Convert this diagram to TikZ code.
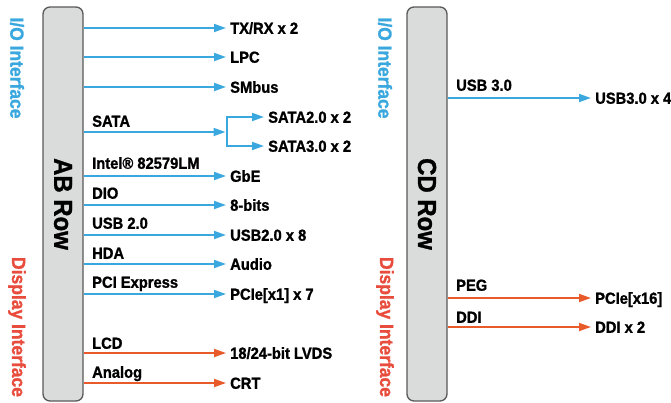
\documentclass[tikz,border=0pt]{standalone}
\usepackage{fontspec}
\setmainfont{Liberation Sans}[FakeStretch=0.92, BoldFont={Liberation Sans Bold},
  BoldFeatures={FakeStretch=0.92, FakeBold=1.2}]
\usetikzlibrary{arrows.meta}
\definecolor{ioblue}{HTML}{3AA8DE}
\definecolor{dispred}{HTML}{E84C3D}
\definecolor{disporange}{HTML}{E85A2A}
\definecolor{rowgray}{HTML}{DADBDB}
\tikzset{
  rowbox/.style={draw=black!65, line width=1.3pt, fill=rowgray, rounded corners=7pt,
    rotate=-90, minimum width=394pt, minimum height=40pt, inner sep=0pt,
    font=\fontsize{26}{26}\selectfont\bfseries},
  side/.style={rotate=-90, inner sep=0pt, font=\fontsize{19}{19}\selectfont\bfseries},
  lbl/.style={anchor=west, inner ysep=0pt, inner xsep=0pt, text height=11.5pt,
    text depth=0pt, font=\fontsize{16}{16}\selectfont\bfseries},
  dst/.style={lbl, inner xsep=4pt},
  bus/.style={line width=1.8pt, -{Triangle[length=12pt,width=8pt]}},
}
\begin{document}
\begin{tikzpicture}[x=1pt, y=-1pt]
  \useasboundingbox (0,0) rectangle (671,402);
  % AB row
  \node[rowbox] (ab) at (63,204) {AB Row};
  \node[side, text=ioblue] (abio) at (17,68) {I/O Interface};
  \node[side, text=dispred] (abdisp) at (17,327) {Display Interface};
  \foreach \n/\txt/\y in {sata/SATA/121, intel/Intel® 82579LM/163, dio/DIO/193,
      usbii/USB 2.0/223, hda/HDA/253, pci/PCI Express/282, lcd/LCD/343, ana/Analog/372}
    \node[lbl] (\n) at (92,\y) {\txt};
  \foreach \n/\txt/\y in {tx/{TX/RX x 2}/28, lpc/LPC/57, smb/SMbus/87, gbe/GbE/176,
      bits/8-bits/205, usbx/USB2.0 x 8/235, aud/Audio/264, pcie/{PCIe[x1] x 7}/294} {
    \node[dst] (\n) at (226,\y) {\txt};
    \draw[bus, draw=ioblue] (ab.north |- \n.west) -- (\n.west);
  }
  \foreach \n/\txt/\y in {lvds/{18/24-bit LVDS}/353, crt/CRT/383} {
    \node[dst] (\n) at (226,\y) {\txt};
    \draw[bus, draw=disporange] (ab.north |- \n.west) -- (\n.west);
  }
  % SATA branch
  \coordinate (br) at (227,132);
  \node[dst] (sataii) at (264,117) {SATA2.0 x 2};
  \node[dst] (sataiii) at (264,146) {SATA3.0 x 2};
  \draw[bus, draw=ioblue, shorten >=1.5pt] (ab.north |- br) -- (br);
  \draw[bus, draw=ioblue] (br) |- (sataii.west);
  \draw[bus, draw=ioblue] (br) |- (sataiii.west);

  % CD row
  \node[rowbox] (cd) at (427,204) {CD Row};
  \node[side, text=ioblue] (cdio) at (385,68) {I/O Interface};
  \node[side, text=dispred] (cddisp) at (385,327) {Display Interface};
  \foreach \n/\txt/\y in {usbiii/USB 3.0/85, peg/PEG/285, ddi/DDI/317}
    \node[lbl] (\n) at (456,\y) {\txt};
  \node[dst] (usbiv) at (591,98) {USB3.0 x 4};
  \node[dst] (pcixvi) at (591,298) {PCIe[x16]};
  \node[dst] (ddiii) at (591,327) {DDI x 2};
  \draw[bus, draw=ioblue] (cd.north |- usbiv.west) -- (usbiv.west);
  \draw[bus, draw=disporange] (cd.north |- pcixvi.west) -- (pcixvi.west);
  \draw[bus, draw=disporange] (cd.north |- ddiii.west) -- (ddiii.west);
\end{tikzpicture}
\end{document}
